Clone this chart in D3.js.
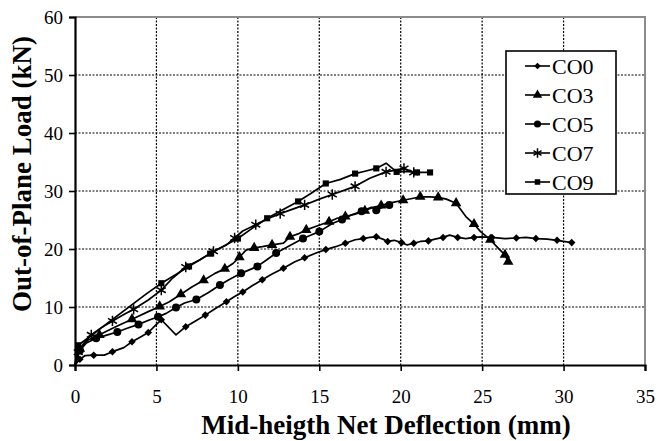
<!DOCTYPE html>
<html>
<head>
<meta charset="utf-8">
<script src="https://cdn.jsdelivr.net/npm/d3@7"></script>
<style>
    body { margin: 0; background: #fff; }
    svg { display: block; font-family: "Liberation Serif", "Times New Roman", serif; }
</style>
</head>
<body>
<svg width="671" height="441"></svg>
<script>
// Series data: deflection (mm) and load (kN)
const seriesNames = ['CO0', 'CO3', 'CO5', 'CO7', 'CO9'];

const co0X = [0, 0.3, 0.6, 1.15, 1.8, 2.3, 3.0, 3.5, 4.0, 4.5, 5.0, 5.3, 6.2, 6.8, 7.4, 8.0, 8.6, 9.3, 9.8, 10.3, 10.9, 11.5, 12.1, 12.8, 13.5, 14.1, 14.8, 15.4, 16.0, 16.6, 17.2, 17.7, 18.1, 18.5, 18.9, 19.2, 19.6, 20.05, 20.4, 20.8, 21.2, 21.7, 22.1, 22.6, 23.0, 23.5, 24.0, 24.5, 24.9, 25.6, 26.4, 27.1, 27.7, 28.3, 29.0, 29.6, 30.5];
const co0Y = [0, 1.0, 1.6, 1.7, 1.7, 2.3, 3.0, 4.0, 4.8, 5.6, 7.0, 7.8, 5.2, 6.6, 7.6, 8.6, 9.7, 10.9, 11.8, 12.6, 13.7, 14.7, 15.7, 16.7, 17.8, 18.5, 19.3, 19.9, 20.4, 21.0, 21.6, 21.8, 22.0, 22.1, 21.7, 21.3, 21.5, 21.1, 20.7, 21.0, 21.3, 21.4, 21.7, 22.0, 22.4, 22.0, 21.8, 22.0, 22.1, 22.0, 21.8, 21.9, 22.0, 21.8, 21.7, 21.5, 21.1];

const co3X = [0, 0.3, 0.8, 1.5, 2.5, 3.5, 4.5, 5.2, 5.8, 6.5, 7.2, 7.9, 8.6, 9.2, 9.7, 10.1, 10.5, 11.0, 11.5, 12.1, 12.8, 13.2, 13.7, 14.2, 14.9, 15.6, 16.1, 16.6, 17.2, 17.8, 18.3, 18.8, 19.3, 20.15, 20.7, 21.2, 21.8, 22.3, 22.8, 23.4, 24.0, 24.5, 24.9, 25.5, 26.0, 26.4, 26.6];
const co3Y = [0, 2.8, 4.3, 5.2, 6.6, 7.9, 9.2, 10.1, 10.9, 12.2, 13.5, 14.6, 15.8, 16.6, 17.5, 18.6, 19.8, 20.2, 20.4, 20.7, 21.0, 22.1, 22.6, 23.3, 24.0, 24.7, 25.3, 25.6, 26.0, 26.6, 27.2, 27.5, 27.9, 28.4, 28.7, 29.0, 29.0, 28.9, 28.6, 27.9, 25.6, 24.3, 23.0, 21.6, 20.1, 19.0, 17.8];

const co5X = [0, 0.3, 0.7, 1.3, 2.0, 2.6, 3.16, 3.9, 4.6, 5.1, 5.6, 6.2, 6.73, 7.45, 8.2, 8.9, 9.5, 10.2, 10.7, 11.2, 11.8, 12.35, 13.2, 14.0, 14.5, 15.0, 15.8, 16.4, 17.0, 17.6, 18.2, 18.5, 18.9, 19.3];
const co5Y = [0, 2.5, 3.8, 4.6, 5.2, 5.7, 6.3, 7.0, 7.8, 8.3, 8.9, 9.9, 10.7, 11.3, 12.5, 13.8, 14.8, 15.8, 16.4, 17.0, 18.2, 19.3, 20.6, 21.8, 22.4, 23.0, 24.4, 25.1, 25.9, 26.5, 27.2, 26.7, 27.2, 27.6];

const co7X = [0, 0.2, 0.6, 1.0, 1.6, 2.3, 3.0, 3.6, 4.5, 5.3, 6.0, 6.8, 7.65, 8.5, 9.3, 9.8, 10.3, 11.1, 11.9, 12.6, 13.2, 14.1, 15.0, 15.8, 16.6, 17.2, 18.1, 19.1, 19.7, 20.2, 20.8];
const co7Y = [0, 2.2, 4.0, 5.2, 6.4, 7.6, 8.7, 9.6, 11.2, 12.9, 15.0, 16.9, 18.1, 19.6, 20.7, 21.9, 23.1, 24.2, 25.3, 26.1, 26.7, 27.6, 28.6, 29.4, 30.2, 30.8, 32.2, 33.3, 33.6, 33.9, 33.2];

const co9X = [0, 0.2, 4.4, 5.3, 6.2, 7.0, 7.6, 8.3, 9.0, 10.0, 10.9, 11.8, 12.7, 13.7, 14.5, 15.4, 16.3, 17.2, 17.8, 18.5, 19.1, 19.75, 20.3, 21.0, 21.8];
const co9Y = [0, 3.4, 12.3, 14.1, 15.6, 17.0, 18.0, 19.2, 20.3, 21.8, 23.6, 25.3, 26.7, 28.2, 29.6, 31.3, 32.0, 33.0, 33.4, 33.9, 34.8, 33.3, 33.4, 33.2, 33.2];

const xTicks = [0, 5, 10, 15, 20, 25, 30, 35];
const yTicks = [0, 10, 20, 30, 40, 50, 60];
const xTitle = 'Mid-heigth Net Deflection (mm)';
const yTitle = 'Out-of-Plane Load (kN)';

class LoadPlot {
    constructor() {
        this.svg = d3.select('svg');
        this.margin = { top: 17, right: 26, bottom: 76, left: 75 };
        this.innerWidth = 671 - this.margin.left - this.margin.right;
        this.innerHeight = 441 - this.margin.top - this.margin.bottom;

        // pair the x and y arrays up into [x, y] points
        const zip = (xs, ys) => xs.map((x, i) => [x, ys[i]]);
        this.dataset = [
            zip(co0X, co0Y), zip(co3X, co3Y), zip(co5X, co5Y), zip(co7X, co7Y), zip(co9X, co9Y)
        ];
        // marker shape for each series, in the order of seriesNames
        this.symbols = [
            { type: d3.symbolDiamond2, size: 36, stroke: false },
            { type: d3.symbolTriangle, size: 48, stroke: false },
            { type: d3.symbolCircle, size: 50, stroke: false },
            { type: d3.symbolAsterisk, size: 75, stroke: true },
            { type: d3.symbolSquare, size: 38, stroke: false }
        ];
    }

    createPlot = () => {
        this.setScales();
        this.g = this.svg.append('g')
            .attr('transform', `translate(${this.margin.left},${this.margin.top})`);
        this.setGrid();
        this.setAxes();
        this.setLines();
        this.setLegend();
        this.setAxisLabels();
    }

    setScales = () => {
        this.xScale = d3.scaleLinear().domain([0, 35]).range([0, this.innerWidth]);
        this.yScale = d3.scaleLinear().domain([0, 60]).range([this.innerHeight, 0]);
    }

    setGrid = () => {
        // dotted gridlines, skipping the ones on the frame
        this.g.append('g').selectAll('line')
            .data(xTicks.slice(1, -1))
            .join('line')
            .attr('x1', d => this.xScale(d)).attr('x2', d => this.xScale(d))
            .attr('y1', 0).attr('y2', this.innerHeight)
            .attr('stroke', '#000').attr('stroke-width', 1.2)
            .attr('stroke-dasharray', '2,1.5');
        this.g.append('g').selectAll('line')
            .data(yTicks.slice(1, -1))
            .join('line')
            .attr('y1', d => this.yScale(d)).attr('y2', d => this.yScale(d))
            .attr('x1', 0).attr('x2', this.innerWidth)
            .attr('stroke', '#000').attr('stroke-width', 1.2)
            .attr('stroke-dasharray', '2,1.5');

        // grey frame on top and right
        this.g.append('path')
            .attr('d', `M0,0H${this.innerWidth}V${this.innerHeight}`)
            .attr('fill', 'none').attr('stroke', '#8c8c8c').attr('stroke-width', 2);
    }

    setAxes = () => {
        const xAxis = d3.axisBottom(this.xScale).tickValues(xTicks).tickSize(6).tickSizeOuter(6).tickPadding(19);
        const yAxis = d3.axisLeft(this.yScale).tickValues(yTicks).tickSize(6).tickSizeOuter(6).tickPadding(6);

        const gx = this.g.append('g')
            .attr('transform', `translate(0,${this.innerHeight})`)
            .call(xAxis);
        const gy = this.g.append('g').call(yAxis);

        [gx, gy].forEach(ax => {
            ax.select('.domain').attr('stroke', '#000').attr('stroke-width', 2.2);
            ax.selectAll('.tick line').attr('stroke', '#000').attr('stroke-width', 1.6);
            ax.selectAll('text')
                .attr('fill', '#000')
                .style('font-family', '"Liberation Serif", serif')
                .style('font-size', '19px');
        });
    }

    setLines = () => {
        const line = d3.line()
            .x(d => this.xScale(d[0]))
            .y(d => this.yScale(d[1]));

        this.dataset.forEach((pts, i) => {
            const s = this.symbols[i];
            this.g.append('path')
                .datum(pts)
                .attr('d', line)
                .attr('fill', 'none')
                .attr('stroke', '#000')
                .attr('stroke-width', 1.7)
                .attr('stroke-linejoin', 'round');

            // a marker on every other point, and the last one
            this.g.append('g').selectAll('path')
                .data(pts.filter((d, j) => j % 2 === 1 || j === pts.length - 1))
                .join('path')
                .attr('transform', d => `translate(${this.xScale(d[0])},${this.yScale(d[1])})`)
                .attr('d', d3.symbol().type(s.type).size(s.size))
                .attr('fill', s.stroke ? 'none' : '#000')
                .attr('stroke', s.stroke ? '#000' : 'none')
                .attr('stroke-width', 1.5);
        });
    }

    setLegend = () => {
        const legend = this.svg.append('g').attr('transform', 'translate(506,51)');
        legend.append('rect')
            .attr('width', 110).attr('height', 143)
            .attr('fill', '#fff').attr('stroke', '#000').attr('stroke-width', 1.6);

        const rows = legend.selectAll('g.row')
            .data(seriesNames)
            .join('g')
            .attr('class', 'row')
            .attr('transform', (d, i) => `translate(0,${15 + i * 29})`);

        rows.append('line')
            .attr('x1', 19).attr('x2', 44)
            .attr('stroke', '#000').attr('stroke-width', 1.6);

        rows.append('path')
            .attr('transform', 'translate(31.5,0)')
            .attr('d', (d, i) => d3.symbol().type(this.symbols[i].type).size(this.symbols[i].size * 0.8)())
            .attr('fill', (d, i) => this.symbols[i].stroke ? 'none' : '#000')
            .attr('stroke', (d, i) => this.symbols[i].stroke ? '#000' : 'none')
            .attr('stroke-width', 1.5);

        rows.append('text')
            .attr('x', 46)
            .attr('dy', '0.35em')
            .style('font-size', '22px')
            .text(d => d);
    }

    setAxisLabels = () => {
        this.svg.append('text')
            .attr('x', 386)
            .attr('y', 434)
            .attr('text-anchor', 'middle')
            .style('font-size', '27px')
            .style('font-weight', 'bold')
            .text(xTitle);

        this.svg.append('text')
            .attr('transform', 'translate(31,174) rotate(-90)')
            .attr('text-anchor', 'middle')
            .style('font-size', '27px')
            .style('font-weight', 'bold')
            .text(yTitle);
    }
}

new LoadPlot().createPlot();
</script>
</body>
</html>
